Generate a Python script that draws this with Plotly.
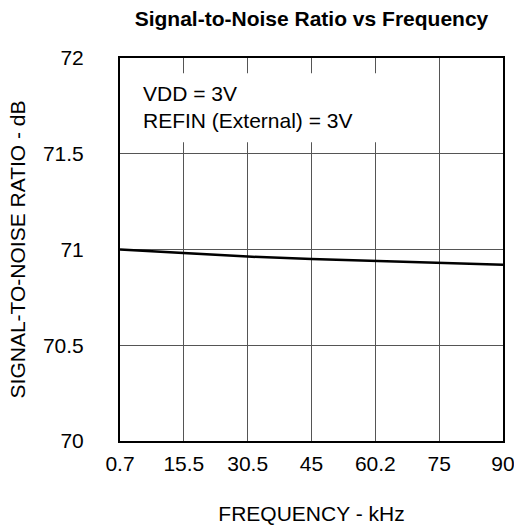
import plotly.graph_objects as go

freq_labels = ["0.7", "15.5", "30.5", "45", "60.2", "75", "90"]
snr_db = [71.0, 70.98, 70.963, 70.95, 70.94, 70.93, 70.92]
y_ticks = [70, 70.5, 71, 71.5, 72]
y_tick_labels = ["70", "70.5", "71", "71.5", "72"]

FONT = "Liberation Sans, Arial, sans-serif"
FS = 21
idx = list(range(len(freq_labels)))

fig = go.Figure()
fig.add_trace(go.Scatter(
    x=idx, y=snr_db, mode="lines",
    line=dict(color="black", width=2.5),
    showlegend=False, hoverinfo="skip",
))

# white box behind the annotation that hides the grid
fig.add_shape(type="rect", xref="x", yref="y",
              x0=0.02, x1=4.6, y0=71.56, y1=71.92,
              fillcolor="white", line=dict(width=0), layer="above")

fig.add_annotation(
    xref="paper", yref="paper", x=0.055, y=0.943, xanchor="left", yanchor="top",
    align="left", showarrow=False,
    text="VDD = 3V<br>REFIN (External) = 3V",
    font=dict(family=FONT, size=FS, color="black"),
)

fig.update_layout(
    width=514, height=525,
    margin=dict(l=120, r=11, t=58, b=84, autoexpand=False),
    paper_bgcolor="white", plot_bgcolor="white",
    title=dict(text="<b>Signal-to-Noise Ratio vs Frequency</b>",
               x=0.606, xanchor="center", y=0.965, yanchor="middle",
               font=dict(family=FONT, size=FS, color="black")),
    font=dict(family=FONT, size=FS, color="black"),
)
fig.update_xaxes(
    range=[0, 6], tickmode="array", tickvals=idx, ticktext=freq_labels,
    showgrid=True, gridcolor="#555555", gridwidth=1,
    showline=True, linecolor="black", linewidth=2, mirror=True,
    ticks="", zeroline=False, ticklabelstandoff=3, automargin=False,
    ticklabeloverflow="allow",
    title=dict(text="FREQUENCY - kHz", standoff=33,
               font=dict(family=FONT, size=FS)),
    tickfont=dict(family=FONT, size=FS),
)
fig.update_yaxes(
    range=[70, 72], tickmode="array", tickvals=y_ticks, ticktext=y_tick_labels,
    showgrid=True, gridcolor="#555555", gridwidth=1,
    showline=True, linecolor="black", linewidth=2, mirror=True,
    ticks="", zeroline=False, ticklabelstandoff=30, automargin=False,
    title=dict(text="SIGNAL-TO-NOISE RATIO - dB", standoff=12,
               font=dict(family=FONT, size=FS)),
    tickfont=dict(family=FONT, size=FS),
)

fig.write_html("out.html", config={"displayModeBar": False},
               post_script="document.body.style.margin='0';")
